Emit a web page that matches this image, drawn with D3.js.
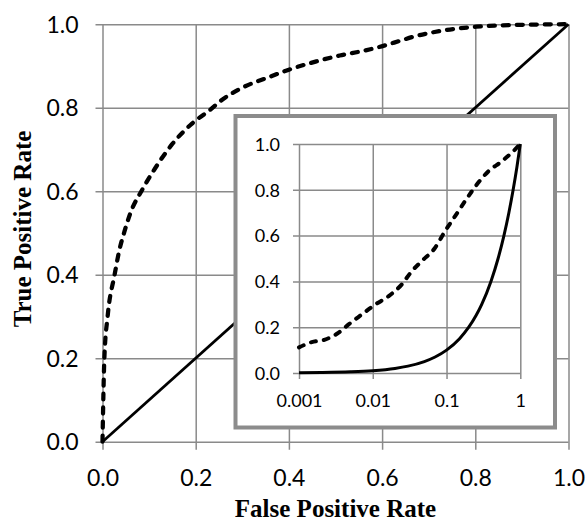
<!DOCTYPE html>
<html>
<head>
<meta charset="utf-8">
<script src="https://cdn.jsdelivr.net/npm/d3@7"></script>
<style>
  body { margin: 0; background: #fff; }
  svg { display: block; }
  .tick text { font-family: Lato, "Open Sans", sans-serif; fill: #000; }
  .axis-title { font-family: "Liberation Serif", "Times New Roman", serif; font-weight: bold; }
</style>
</head>
<body>
<svg id="chart" width="587" height="525"></svg>
<script>
// main ROC panel (linear axes)
var mainTicks = [0, 0.2, 0.4, 0.6, 0.8, 1.0];
var diagFpr = [0, 1];
var diagTpr = [0, 1];
var rocFpr = [0, 0.004, 0.011, 0.026, 0.036, 0.047, 0.059, 0.086, 0.113, 0.149, 0.192, 0.231,
              0.252, 0.302, 0.352, 0.4, 0.459, 0.509, 0.559, 0.599, 0.635, 0.667, 0.738, 0.802, 0.881, 1.0];
var rocTpr = [0, 0.2, 0.30, 0.40, 0.458, 0.503, 0.545, 0.605, 0.655, 0.712, 0.762, 0.795,
              0.815, 0.849, 0.871, 0.891, 0.911, 0.925, 0.936, 0.947, 0.959, 0.970, 0.986, 0.994, 0.998, 1.0];

// inset panel (log FPR axis)
var insetXTicks = [0.001, 0.01, 0.1, 1];
var insetXLabels = ['0.001', '0.01', '0.1', '1'];
var insetYTicks = [0, 0.2, 0.4, 0.6, 0.8, 1.0];
var insetRocFpr = [0.001, 0.00149, 0.00225, 0.00341, 0.00466, 0.00707, 0.0107, 0.0163, 0.0246, 0.0337,
                   0.0459, 0.0696, 0.0953, 0.130, 0.178, 0.256, 0.370, 0.56, 0.76, 1.0];
var insetRocTpr = [0.112, 0.135, 0.146, 0.175, 0.211, 0.255, 0.298, 0.335, 0.386, 0.444,
                   0.488, 0.546, 0.619, 0.684, 0.75, 0.822, 0.881, 0.924, 0.961, 1.0];
var insetDiagFpr = [0.001, 0.002, 0.005, 0.01, 0.02, 0.03, 0.05, 0.07, 0.1, 0.15, 0.2, 0.25, 0.3, 0.4, 0.5, 0.6, 0.7, 0.8, 0.9, 1];
var insetDiagTpr = [0.001, 0.002, 0.005, 0.01, 0.02, 0.03, 0.05, 0.07, 0.1, 0.15, 0.2, 0.25, 0.3, 0.4, 0.5, 0.6, 0.7, 0.8, 0.9, 1];

var gridColor = '#8a8a8a';
var svg = d3.select('#chart');

// main scales
var M = { left: 102.5, right: 568.5, top: 24.2, bottom: 441.7 };
var x = d3.scaleLinear().domain([0, 1]).range([M.left, M.right]);
var y = d3.scaleLinear().domain([0, 1]).range([M.bottom, M.top]);
var fmt = d3.format('.1f');

function styleAxis(g, size) {
    g.select('.domain').remove();
    g.selectAll('.tick line').attr('stroke', gridColor).attr('stroke-width', 1.5);
    g.selectAll('.tick text').style('font-size', size + 'px');
}

var xAxis = svg.append('g')
    .attr('transform', 'translate(0,' + (M.bottom + 8) + ')')
    .call(d3.axisBottom(x).tickValues(mainTicks).tickFormat(fmt).tickSizeInner(-(M.bottom - M.top + 8)).tickSizeOuter(0));
styleAxis(xAxis, 23);
xAxis.selectAll('.tick text').attr('y', 36).attr('dy', null);

var yAxis = svg.append('g')
    .attr('transform', 'translate(' + (M.left - 7) + ',0)')
    .call(d3.axisLeft(y).tickValues(mainTicks).tickFormat(fmt).tickSizeInner(-(M.right - M.left + 7)).tickSizeOuter(0));
styleAxis(yAxis, 23);
yAxis.selectAll('.tick text').attr('x', -17).attr('dy', '0.35em');

var line = d3.line()
    .x(function(d) { return x(d[0]); })
    .y(function(d) { return y(d[1]); })
    .curve(d3.curveMonotoneX);

svg.append('path')
    .datum(d3.zip(diagFpr, diagTpr))
    .attr('d', line)
    .attr('fill', 'none')
    .attr('stroke', '#000')
    .attr('stroke-width', 2.75);

svg.append('path')
    .datum(d3.zip(rocFpr, rocTpr))
    .attr('d', line)
    .attr('fill', 'none')
    .attr('stroke', '#000')
    .attr('stroke-width', 4.25)
    .attr('stroke-linecap', 'round')
    .attr('stroke-dasharray', '6,8');

// axis titles
svg.append('text')
    .attr('class', 'axis-title')
    .attr('x', (M.left + M.right) / 2)
    .attr('y', 517)
    .attr('text-anchor', 'middle')
    .style('font-size', '25px')
    .text('False Positive Rate');

svg.append('text')
    .attr('class', 'axis-title')
    .attr('transform', 'translate(31,' + 229 + ') rotate(-90)')
    .attr('text-anchor', 'middle')
    .style('font-size', '25px')
    .text('True Positive Rate');

// inset
svg.append('rect')
    .attr('x', 235.5).attr('y', 116)
    .attr('width', 319.5).attr('height', 311.5)
    .attr('fill', '#fff')
    .attr('stroke', '#8c8c8c')
    .attr('stroke-width', 4);

var I = { left: 299, right: 520.3, top: 144, bottom: 373 };
var xi = d3.scaleLog().domain([0.001, 1]).range([I.left, I.right]);
var yi = d3.scaleLinear().domain([0, 1]).range([I.bottom, I.top]);

var xiAxis = svg.append('g')
    .attr('transform', 'translate(0,' + (I.bottom + 6) + ')')
    .call(d3.axisBottom(xi).tickValues(insetXTicks)
        .tickFormat(function(d, i) { return insetXLabels[i]; })
        .tickSizeInner(-(I.bottom - I.top + 6)).tickSizeOuter(0));
styleAxis(xiAxis, 18);
xiAxis.selectAll('.tick text').attr('y', 28).attr('dy', null);

var yiAxis = svg.append('g')
    .attr('transform', 'translate(' + (I.left - 6) + ',0)')
    .call(d3.axisLeft(yi).tickValues(insetYTicks).tickFormat(fmt)
        .tickSizeInner(-(I.right - I.left + 6)).tickSizeOuter(0));
styleAxis(yiAxis, 18);
yiAxis.selectAll('.tick text').attr('x', -13).attr('dy', '0.35em');

var lineI = d3.line()
    .x(function(d) { return xi(d[0]); })
    .y(function(d) { return yi(d[1]); })
    .curve(d3.curveMonotoneX);

svg.append('path')
    .datum(d3.zip(insetDiagFpr, insetDiagTpr))
    .attr('d', lineI)
    .attr('fill', 'none')
    .attr('stroke', '#000')
    .attr('stroke-width', 3);

svg.append('path')
    .datum(d3.zip(insetRocFpr, insetRocTpr))
    .attr('d', lineI)
    .attr('fill', 'none')
    .attr('stroke', '#000')
    .attr('stroke-width', 4)
    .attr('stroke-linecap', 'round')
    .attr('stroke-dasharray', '5,8');
</script>
</body>
</html>
